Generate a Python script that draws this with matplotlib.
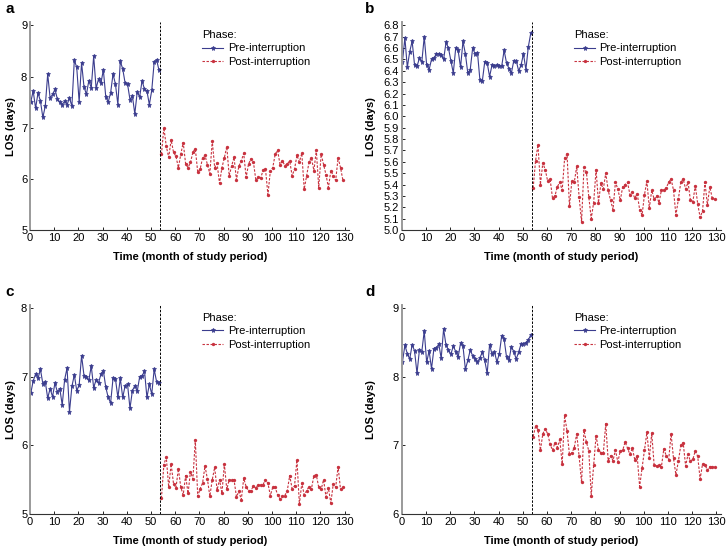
import matplotlib
matplotlib.use("Agg")
import matplotlib.pyplot as plt
import numpy as np

plt.rcParams["font.family"] = ["Liberation Sans", "DejaVu Sans"]

# month index of each observation
pre_months = np.arange(0, 54)
post_months = np.arange(54, 130)
interruption = 53.7

# panel a
a_pre = [7.5, 7.72, 7.38, 7.68, 7.52, 7.2, 7.42, 8.05, 7.58, 7.65,
         7.75, 7.56, 7.5, 7.45, 7.52, 7.45, 7.58, 7.42, 8.32, 8.18,
         7.5, 8.27, 7.8, 7.65, 7.92, 7.78, 8.4, 7.77, 7.95, 7.87,
         8.13, 7.6, 7.5, 7.68, 8.05, 7.85, 7.45, 8.3, 8.15, 7.87,
         7.85, 7.55, 7.62, 7.27, 7.7, 7.6, 7.92, 7.75, 7.72, 7.45,
         7.73, 8.28, 8.33, 8.12]
a_post = [6.48, 7.0, 6.64, 6.42, 6.76, 6.52, 6.44, 6.22, 6.48, 6.71,
          6.29, 6.22, 6.32, 6.52, 6.59, 6.13, 6.19, 6.41, 6.46, 6.28,
          6.10, 6.74, 6.22, 6.30, 5.91, 6.22, 6.41, 6.63, 6.06, 6.25,
          6.42, 5.98, 6.25, 6.35, 6.50, 6.03, 6.29, 6.39, 6.33, 5.98,
          6.03, 6.01, 6.17, 6.19, 5.69, 6.15, 6.22, 6.48, 6.56, 6.28,
          6.35, 6.26, 6.29, 6.35, 6.06, 6.19, 6.46, 6.33, 6.50, 5.80,
          6.06, 6.33, 6.41, 6.16, 6.56, 5.83, 6.48, 6.28, 6.08, 5.83,
          6.16, 6.06, 5.97, 6.41, 6.22, 5.97]

# panel b
b_pre = [6.48, 6.69, 6.43, 6.57, 6.66, 6.45, 6.44, 6.51, 6.48, 6.70,
         6.45, 6.41, 6.50, 6.51, 6.55, 6.55, 6.54, 6.50, 6.65, 6.60,
         6.49, 6.38, 6.60, 6.58, 6.43, 6.66, 6.55, 6.38, 6.41, 6.60,
         6.55, 6.56, 6.32, 6.31, 6.48, 6.47, 6.35, 6.45, 6.44, 6.45,
         6.44, 6.44, 6.58, 6.47, 6.42, 6.38, 6.49, 6.49, 6.40, 6.45,
         6.55, 6.41, 6.61, 6.73]
b_post = [5.37, 5.61, 5.75, 5.40, 5.59, 5.53, 5.43, 5.45, 5.28, 5.30,
          5.38, 5.42, 5.35, 5.63, 5.67, 5.21, 5.43, 5.42, 5.56, 5.29,
          5.07, 5.55, 5.51, 5.29, 5.10, 5.24, 5.53, 5.24, 5.41, 5.36,
          5.50, 5.35, 5.26, 5.18, 5.42, 5.36, 5.26, 5.38, 5.40, 5.42,
          5.31, 5.33, 5.28, 5.32, 5.18, 5.13, 5.31, 5.43, 5.19, 5.35,
          5.27, 5.30, 5.24, 5.35, 5.35, 5.37, 5.42, 5.45, 5.35, 5.13,
          5.27, 5.42, 5.45, 5.36, 5.42, 5.26, 5.25, 5.39, 5.23, 5.11,
          5.17, 5.42, 5.22, 5.38, 5.28, 5.27]

# panel c
c_pre = [6.76, 6.94, 7.04, 6.98, 7.11, 6.90, 6.93, 6.69, 6.83, 6.71,
         6.91, 6.78, 6.83, 6.59, 6.96, 7.13, 6.49, 6.86, 7.03, 6.80,
         6.88, 7.31, 7.02, 7.00, 6.95, 7.16, 6.84, 6.96, 6.91, 7.04,
         7.09, 6.85, 6.70, 6.62, 6.98, 6.97, 6.70, 6.98, 6.70, 6.87,
         6.89, 6.54, 6.80, 6.87, 6.79, 7.00, 7.01, 7.09, 6.70, 6.89,
         6.75, 7.11, 6.93, 6.91]
c_post = [5.23, 5.72, 5.83, 5.39, 5.73, 5.44, 5.38, 5.66, 5.39, 5.28,
          5.56, 5.30, 5.62, 5.51, 6.08, 5.26, 5.37, 5.45, 5.70, 5.51,
          5.26, 5.50, 5.68, 5.35, 5.50, 5.30, 5.73, 5.36, 5.50, 5.49,
          5.50, 5.25, 5.33, 5.21, 5.52, 5.40, 5.34, 5.34, 5.41, 5.38,
          5.43, 5.42, 5.43, 5.50, 5.45, 5.27, 5.39, 5.39, 5.28, 5.22,
          5.26, 5.27, 5.34, 5.56, 5.37, 5.41, 5.79, 5.14, 5.45, 5.28,
          5.34, 5.40, 5.37, 5.56, 5.57, 5.39, 5.36, 5.50, 5.25, 5.38,
          5.16, 5.44, 5.39, 5.69, 5.36, 5.39]

# panel d
d_pre = [8.22, 8.46, 8.34, 8.26, 8.47, 8.38, 8.05, 8.39, 8.37, 8.67,
         8.21, 8.38, 8.12, 8.41, 8.42, 8.48, 8.27, 8.70, 8.46, 8.39,
         8.33, 8.45, 8.37, 8.29, 8.49, 8.45, 8.11, 8.24, 8.39, 8.31,
         8.26, 8.21, 8.28, 8.36, 8.24, 8.05, 8.47, 8.33, 8.37, 8.22,
         8.33, 8.60, 8.55, 8.29, 8.24, 8.44, 8.37, 8.26, 8.36, 8.48,
         8.48, 8.50, 8.54, 8.61]
d_post = [7.13, 7.28, 7.23, 6.93, 7.17, 7.24, 7.17, 7.02, 6.93, 7.04,
          6.97, 7.09, 6.73, 7.44, 7.21, 6.87, 6.89, 6.97, 7.17, 6.84,
          6.46, 7.22, 7.05, 6.92, 6.27, 6.71, 7.14, 6.94, 6.89, 6.89,
          7.32, 6.78, 6.85, 6.78, 6.93, 6.76, 6.92, 6.93, 7.05, 6.96,
          6.87, 6.96, 6.79, 6.84, 6.40, 6.67, 6.93, 7.19, 6.82, 7.18,
          6.71, 6.70, 6.71, 6.69, 6.95, 6.85, 6.79, 7.17, 6.81, 6.57,
          6.77, 7.00, 7.04, 6.70, 6.87, 6.77, 6.80, 6.92, 6.84, 6.51,
          6.73, 6.72, 6.64, 6.69, 6.69, 6.68]

x_ticks = np.arange(0, 131, 10)

PRE_COLOR = "#3b3d8e"
POST_COLOR = "#c8323f"
FS = 8


def draw_panel(ax, pre, post, yticks, yfmt, label_x):
    ax.plot(pre_months + 0.3, pre, color=PRE_COLOR, lw=0.8, marker="*",
            ms=3.6, mew=0.5, label="Pre-interruption")
    ax.plot(post_months + 0.3, post, color=POST_COLOR, lw=0.8,
            ls=(0, (2.2, 1.4)), marker="o", ms=2.4, mew=0,
            label="Post-interruption")
    ax.axvline(interruption, color="black", lw=0.7, ls=(0, (2.5, 1.5)))

    span = yticks[-1] - yticks[0]
    ax.set_ylim(yticks[0], yticks[-1] + span * 0.015)
    ax.set_xlim(0, 132)
    ax.set_xticks(x_ticks)
    ax.set_yticks(yticks)
    ax.set_yticklabels([yfmt.format(v) for v in yticks])

    for side in ("top", "right"):
        ax.spines[side].set_visible(False)
    ax.spines["left"].set_color("#9a9a9a")
    ax.spines["left"].set_linewidth(1.4)
    ax.spines["bottom"].set_color("#333333")
    ax.spines["bottom"].set_linewidth(0.8)
    ax.tick_params(direction="in", length=2.5, width=0.6, labelsize=FS,
                   pad=2)

    ax.set_xlabel("Time (month of study period)", fontsize=FS,
                  fontweight="bold")
    ax.xaxis.set_label_coords(0.5, -0.105)
    ax.set_ylabel("LOS (days)", fontsize=FS, fontweight="bold")
    ax.yaxis.set_label_coords(label_x, 0.5)

    leg = ax.legend(loc="upper left", bbox_to_anchor=(0.515, 1.0),
                    frameon=False, title="Phase:", fontsize=FS,
                    title_fontsize=FS, alignment="left", handlelength=1.9,
                    handletextpad=0.4, labelspacing=0.3, borderpad=0.2)
    return leg


fig = plt.figure(figsize=(7.27, 5.48), dpi=100)

ax_a = fig.add_axes([0.0413, 0.5803, 0.4394, 0.379])
ax_b = fig.add_axes([0.5526, 0.5803, 0.4394, 0.379])
ax_c = fig.add_axes([0.0413, 0.062, 0.4394, 0.381])
ax_d = fig.add_axes([0.5526, 0.062, 0.4394, 0.381])

draw_panel(ax_a, a_pre, a_post, [5, 6, 7, 8, 9], "{:.0f}", -0.044)
draw_panel(ax_b, b_pre, b_post, list(np.round(np.arange(5.0, 6.81, 0.1), 1)),
           "{:.1f}", -0.081)
draw_panel(ax_c, c_pre, c_post, [5, 6, 7, 8], "{:.0f}", -0.044)
draw_panel(ax_d, d_pre, d_post, [6, 7, 8, 9], "{:.0f}", -0.081)

for letter, (px, py) in zip("abcd", [(5, 9), (365, 9), (5, 292), (365, 292)]):
    fig.text(px / 727, 1 - py / 548, letter, fontsize=11, fontweight="bold",
             ha="left", va="center")

fig.savefig("out.png", dpi=100)
